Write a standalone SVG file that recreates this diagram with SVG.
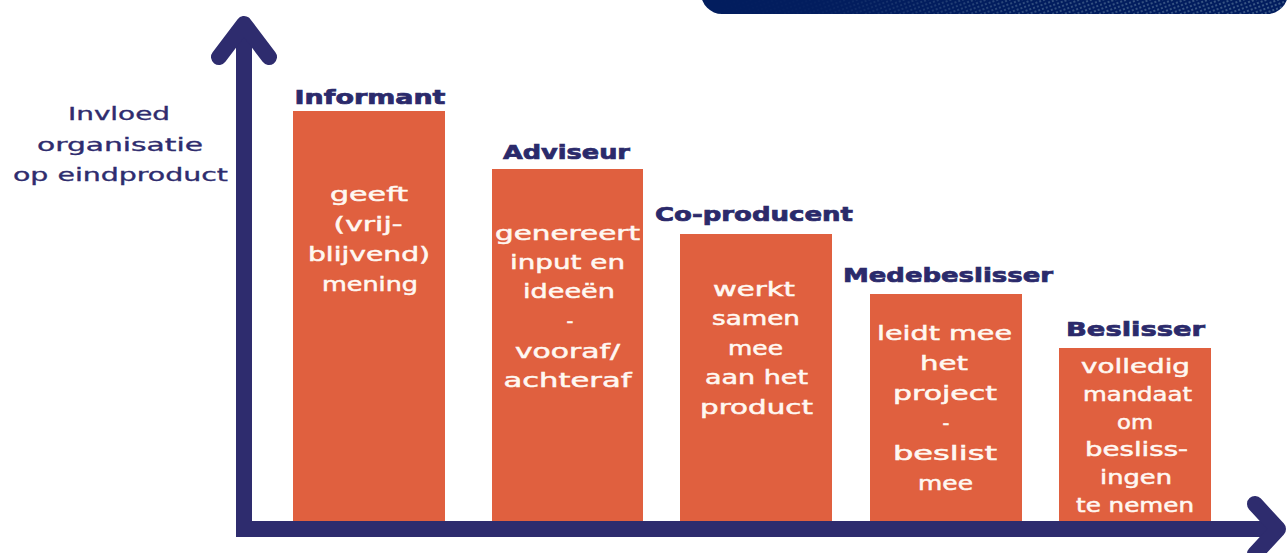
<svg xmlns="http://www.w3.org/2000/svg" width="1287" height="553" viewBox="0 0 1287 553">
  <style>
    .bar { fill: #E0603F; }
    .title { font-family: "DejaVu Sans", "Liberation Sans", sans-serif; font-weight: bold; font-size: 20px; fill: #2B2A6B; stroke: #2B2A6B; stroke-width: 0.7; text-anchor: middle; }
    .body { font-family: "DejaVu Sans", "Liberation Sans", sans-serif; font-size: 19px; fill: #FFF8F2; stroke: #FFF8F2; stroke-width: 0.5; text-anchor: middle; }
    .axislabel { font-family: "DejaVu Sans", "Liberation Sans", sans-serif; font-size: 18px; fill: #2E2C6E; stroke: #2E2C6E; stroke-width: 0.35; text-anchor: middle; }
    .axis { fill: #2E2C6E; }
    .head { fill: none; stroke: #2E2C6E; stroke-width: 16; stroke-linecap: round; stroke-linejoin: round; }
  </style>
  <defs>
    <pattern id="dots" width="4" height="4" patternUnits="userSpaceOnUse" patternTransform="rotate(-20)">
      <rect x="0" y="0" width="2" height="2" fill="#8FAFC0"/>
    </pattern>
    <linearGradient id="fade" x1="0" y1="0" x2="1" y2="0">
      <stop offset="0" stop-color="#000"/>
      <stop offset="0.2" stop-color="#111"/>
      <stop offset="0.55" stop-color="#999"/>
      <stop offset="1" stop-color="#BBB"/>
    </linearGradient>
    <mask id="fadeMask" maskUnits="userSpaceOnUse" x="700" y="-40" width="590" height="60">
      <rect x="700" y="-40" width="590" height="60" fill="url(#fade)"/>
    </mask>
  </defs>

  <rect width="1287" height="553" fill="#FFFFFF"/>

  <!-- dark textured banner along the top edge -->
  <g id="banner">
    <rect x="701" y="-40" width="587" height="54" rx="21" fill="#021D5E"/>
    <rect x="701" y="-40" width="587" height="54" rx="21" fill="url(#dots)" mask="url(#fadeMask)" opacity="0.55"/>
  </g>

  <!-- y-axis caption -->
  <g id="y-label">
    <text class="axislabel" x="119" y="120" textLength="102" lengthAdjust="spacingAndGlyphs">Invloed</text>
    <text class="axislabel" x="120" y="151" textLength="166" lengthAdjust="spacingAndGlyphs">organisatie</text>
    <text class="axislabel" x="120.5" y="181" textLength="215" lengthAdjust="spacingAndGlyphs">op eindproduct</text>
  </g>

  <g id="informant">
    <rect class="bar" x="293" y="111" width="152" height="410"/>
    <text class="title" x="370" y="104" textLength="151" lengthAdjust="spacingAndGlyphs">Informant</text>
    <text class="body" x="369" y="201" textLength="78" lengthAdjust="spacingAndGlyphs">geeft</text>
    <text class="body" x="368" y="231" textLength="69" lengthAdjust="spacingAndGlyphs">(vrij-</text>
    <text class="body" x="369" y="261" textLength="122" lengthAdjust="spacingAndGlyphs">blijvend)</text>
    <text class="body" x="370" y="291" textLength="96" lengthAdjust="spacingAndGlyphs">mening</text>
  </g>

  <g id="adviseur">
    <rect class="bar" x="492" y="169" width="151" height="352"/>
    <text class="title" x="566.5" y="159" textLength="127" lengthAdjust="spacingAndGlyphs">Adviseur</text>
    <text class="body" x="567.5" y="240" textLength="145" lengthAdjust="spacingAndGlyphs">genereert</text>
    <text class="body" x="567.5" y="269" textLength="115" lengthAdjust="spacingAndGlyphs">input en</text>
    <text class="body" x="569" y="298" textLength="92" lengthAdjust="spacingAndGlyphs">ideeën</text>
    <text class="body" x="570" y="328">-</text>
    <text class="body" x="567.5" y="358" textLength="105" lengthAdjust="spacingAndGlyphs">vooraf/</text>
    <text class="body" x="567.5" y="387" textLength="128" lengthAdjust="spacingAndGlyphs">achteraf</text>
  </g>

  <g id="co-producent">
    <rect class="bar" x="680" y="234" width="152" height="287"/>
    <text class="title" x="754" y="221" textLength="198" lengthAdjust="spacingAndGlyphs">Co-producent</text>
    <text class="body" x="754" y="296" textLength="82" lengthAdjust="spacingAndGlyphs">werkt</text>
    <text class="body" x="756" y="325" textLength="88" lengthAdjust="spacingAndGlyphs">samen</text>
    <text class="body" x="755.5" y="355" textLength="55" lengthAdjust="spacingAndGlyphs">mee</text>
    <text class="body" x="756.5" y="384" textLength="103" lengthAdjust="spacingAndGlyphs">aan het</text>
    <text class="body" x="756.5" y="414" textLength="113" lengthAdjust="spacingAndGlyphs">product</text>
  </g>

  <g id="medebeslisser">
    <rect class="bar" x="870" y="294" width="152" height="227"/>
    <text class="title" x="948" y="282" textLength="210" lengthAdjust="spacingAndGlyphs">Medebeslisser</text>
    <text class="body" x="944.5" y="340" textLength="135" lengthAdjust="spacingAndGlyphs">leidt mee</text>
    <text class="body" x="944" y="370" textLength="48" lengthAdjust="spacingAndGlyphs">het</text>
    <text class="body" x="945" y="400" textLength="104" lengthAdjust="spacingAndGlyphs">project</text>
    <text class="body" x="946" y="430">-</text>
    <text class="body" x="945" y="460" textLength="104" lengthAdjust="spacingAndGlyphs">beslist</text>
    <text class="body" x="945.5" y="490" textLength="55" lengthAdjust="spacingAndGlyphs">mee</text>
  </g>

  <g id="beslisser">
    <rect class="bar" x="1059" y="348" width="152" height="173"/>
    <text class="title" x="1135.5" y="336" textLength="139" lengthAdjust="spacingAndGlyphs">Beslisser</text>
    <text class="body" x="1135.5" y="373" textLength="109" lengthAdjust="spacingAndGlyphs">volledig</text>
    <text class="body" x="1137.5" y="401" textLength="109" lengthAdjust="spacingAndGlyphs">mandaat</text>
    <text class="body" x="1135" y="428.5" textLength="36" lengthAdjust="spacingAndGlyphs">om</text>
    <text class="body" x="1136.5" y="456" textLength="103" lengthAdjust="spacingAndGlyphs">besliss-</text>
    <text class="body" x="1136" y="484" textLength="72" lengthAdjust="spacingAndGlyphs">ingen</text>
    <text class="body" x="1135" y="512" textLength="118" lengthAdjust="spacingAndGlyphs">te nemen</text>
  </g>

  <!-- axes with open chevron heads -->
  <g id="axes">
    <rect class="axis" x="236" y="26" width="16" height="511"/>
    <rect class="axis" x="236" y="521" width="1040" height="16"/>
    <polyline class="head" points="219,57 244,24 269,57"/>
    <polyline class="head" points="1255,504 1278,529 1255,554"/>
  </g>
</svg>
